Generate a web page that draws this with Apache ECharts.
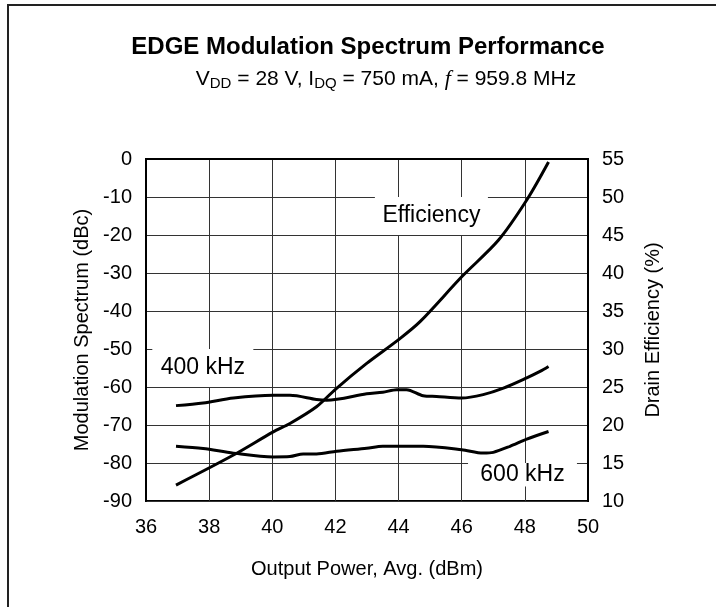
<!DOCTYPE html>
<html>
<head>
<meta charset="utf-8">
<script src="https://cdn.jsdelivr.net/npm/echarts@6/dist/echarts.min.js"></script>
<style>
  html, body { margin: 0; padding: 0; background: #fff; }
  #chart { width: 716px; height: 607px; }
</style>
</head>
<body>
<div id="chart"></div>
<script>
// output power (dBm) and values
let effPower = [36.95, 38.77, 40.03, 40.56, 41.4, 42.0, 42.99, 43.99, 44.68, 46.0, 47.16, 48.06, 48.75];
let effValue = [12.1, 16.05, 19.1, 20.2, 22.4, 24.7, 28.1, 31.2, 33.6, 39.5, 44.3, 49.6, 54.6];

let khz400Power = [36.95, 37.81, 38.77, 40.03, 40.56, 41.4, 41.72, 42.99, 43.5, 43.94, 44.25, 44.78, 45.2, 46.0, 46.68, 47.32, 48.06, 48.48, 48.75];
let khz400Value = [-64.9, -64.2, -62.9, -62.2, -62.2, -63.3, -63.5, -61.8, -61.4, -60.7, -60.7, -62.3, -62.5, -62.9, -62.0, -60.3, -57.6, -55.9, -54.6];

let khz600Power = [36.95, 37.81, 38.77, 40.03, 40.56, 40.98, 41.4, 42.04, 42.99, 43.5, 44.78, 46.0, 46.68, 47.0, 47.53, 48.06, 48.75];
let khz600Value = [-75.6, -76.2, -77.4, -78.4, -78.3, -77.6, -77.6, -76.9, -76.1, -75.6, -75.6, -76.5, -77.4, -77.2, -75.6, -73.7, -71.7];

// annotation boxes: [text, x0, x1, y0, y1] in left-axis data units
let notes = [
  ['400 kHz', 36.2, 39.4, -50, -60],
  ['Efficiency', 43.25, 46.83, -10, -20],
  ['600 kHz', 46.2, 49.65, -80, -86.2],
];

function zip(xs, ys) {
  return xs.map((x, i) => [x, ys[i]]);
}

let font = 'Liberation Sans, Arial, sans-serif';
let chart = echarts.init(document.getElementById('chart'));

let option = {
  backgroundColor: '#fff',
  animation: false,
  textStyle: { fontFamily: font },
  title: [
    {
      text: 'EDGE Modulation Spectrum Performance',
      left: 363,
      top: 30,
      textAlign: 'center',
      textStyle: { fontSize: 24, fontWeight: 'bold', color: '#000', fontFamily: font }
    },
    {
      text: '{n|V}{s|DD}{n| = 28 V, I}{s|DQ}{n| = 750 mA, }{i|f}{n| = 959.8 MHz}',
      left: 381,
      top: 62,
      textAlign: 'center',
      textStyle: {
        color: '#000',
        fontWeight: 'normal',
        rich: {
          n: { fontSize: 21, fontFamily: font, fontWeight: 'normal', color: '#000', lineHeight: 24 },
          s: { fontSize: 15, fontFamily: font, fontWeight: 'normal', color: '#000', lineHeight: 24, verticalAlign: 'bottom', padding: [11, 0, 0, 0] },
          i: { fontSize: 22, fontFamily: 'Liberation Serif, serif', fontStyle: 'italic', fontWeight: 'normal', color: '#000', lineHeight: 24 }
        }
      }
    }
  ],
  grid: {
    left: 146,
    right: 128,
    top: 159,
    bottom: 106,
    show: true,
    borderColor: '#000',
    borderWidth: 2,
    backgroundColor: 'transparent'
  },
  xAxis: {
    type: 'value',
    min: 36,
    max: 50,
    interval: 2,
    name: 'Output Power, Avg. (dBm)',
    nameLocation: 'middle',
    nameGap: 58,
    nameTextStyle: { fontSize: 20, color: '#000' },
    axisLine: { lineStyle: { color: '#000', width: 2 } },
    axisTick: { show: false },
    axisLabel: { fontSize: 20, color: '#000', margin: 16 },
    splitLine: { show: true, lineStyle: { color: '#333', width: 1 } }
  },
  yAxis: [
    {
      type: 'value',
      min: -90,
      max: 0,
      interval: 10,
      name: 'Modulation Spectrum (dBc)',
      nameLocation: 'middle',
      nameGap: 33,
      nameTextStyle: { fontSize: 20, color: '#000' },
      axisLine: { show: true, lineStyle: { color: '#000', width: 2 } },
      axisTick: { show: false },
      axisLabel: { fontSize: 20, color: '#000', margin: 14 },
      splitLine: { show: true, lineStyle: { color: '#333', width: 1 } }
    },
    {
      type: 'value',
      min: 10,
      max: 55,
      interval: 5,
      position: 'right',
      name: 'Drain Efficiency (%)',
      nameLocation: 'middle',
      nameGap: 55,
      nameRotate: 90,
      nameTextStyle: { fontSize: 20, color: '#000' },
      axisLine: { show: true, lineStyle: { color: '#000', width: 2 } },
      axisTick: { show: false },
      axisLabel: { fontSize: 20, color: '#000', margin: 14 },
      splitLine: { show: false }
    }
  ],
  series: [
    {
      name: 'Efficiency',
      type: 'line',
      yAxisIndex: 1,
      data: zip(effPower, effValue),
      smooth: 0.3,
      showSymbol: false,
      lineStyle: { color: '#000', width: 3 },
      z: 5
    },
    {
      name: '400 kHz',
      type: 'line',
      data: zip(khz400Power, khz400Value),
      smooth: 0.3,
      showSymbol: false,
      lineStyle: { color: '#000', width: 3 },
      z: 5
    },
    {
      name: '600 kHz',
      type: 'line',
      data: zip(khz600Power, khz600Value),
      smooth: 0.3,
      showSymbol: false,
      lineStyle: { color: '#000', width: 3 },
      z: 5
    }
  ]
};
chart.setOption(option);

// white label boxes placed by data coordinates
let graphics = [
  {
    type: 'rect',
    shape: { x: 8, y: 5, width: 800, height: 700 },
    style: { fill: 'none', stroke: '#222', lineWidth: 2 },
    silent: true,
    z: 1
  }
];
notes.forEach(n => {
  let p0 = chart.convertToPixel({ gridIndex: 0 }, [n[1], n[3]]);
  let p1 = chart.convertToPixel({ gridIndex: 0 }, [n[2], n[4]]);
  graphics.push({
    type: 'rect',
    shape: { x: p0[0], y: p0[1], width: p1[0] - p0[0], height: p1[1] - p0[1] },
    style: { fill: '#fff' },
    silent: true,
    z: 3
  });
  graphics.push({
    type: 'text',
    x: (p0[0] + p1[0]) / 2,
    y: (p0[1] + p1[1]) / 2,
    style: {
      text: n[0],
      fill: '#000',
      font: '23px ' + font,
      align: 'center',
      verticalAlign: 'middle'
    },
    silent: true,
    z: 4
  });
});
chart.setOption({ graphic: graphics });
</script>
</body>
</html>
